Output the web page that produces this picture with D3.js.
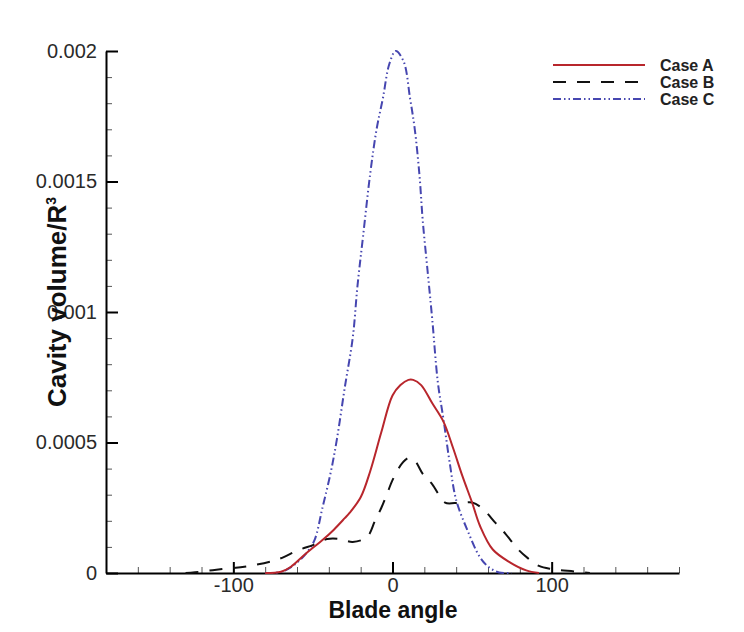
<!DOCTYPE html>
<html>
<head>
<meta charset="utf-8">
<script src="https://cdn.jsdelivr.net/npm/d3@7"></script>
<style>
  html, body { margin: 0; padding: 0; background: #fff; }
  svg { display: block; font-family: "Liberation Sans", Arial, sans-serif; }
</style>
</head>
<body>
<svg id="chart" width="744" height="632"></svg>
<script>
// ---- Data ----
const seriesNames = ["Case A", "Case B", "Case C"];

const caseA_angle  = [-80, -70, -64, -54, -44, -37, -30, -27, -20, -14, -7, 0, 5, 10, 13, 18, 25, 32, 38, 44, 50, 55, 63, 74, 84, 92];
const caseA_volume = [0, 0.000005, 0.000023, 0.000077, 0.000126, 0.000165, 0.00021, 0.00023, 0.00029, 0.00039, 0.00054, 0.00068, 0.00072, 0.00074, 0.00074, 0.00072, 0.00065, 0.00058, 0.00048, 0.00037, 0.00027, 0.00018, 0.00009, 0.00004, 0.00001, 0];

const caseB_angle  = [-130, -124, -107, -90, -73, -59, -50, -41, -33, -25, -16, -11, -7, -3, 0, 6, 10, 14, 19, 25, 33, 39, 45, 50, 56, 65, 71, 79, 85, 92, 100, 114, 124];
const caseB_volume = [0, 0.000003, 0.000015, 0.000027, 0.00005, 0.000088, 0.000107, 0.00013, 0.00013, 0.000119, 0.000138, 0.0002, 0.00025, 0.00031, 0.000356, 0.00042, 0.00044, 0.00043, 0.00038, 0.00034, 0.00027, 0.000268, 0.00027, 0.00027, 0.00025, 0.00019, 0.00015, 0.00009, 0.000057, 0.000027, 0.000015, 0.000006, 0];

const caseC_angle  = [-80, -70, -62, -54, -49, -44, -39, -35, -30, -25, -22, -18.5, -14, -10, -6, -2, 2, 7, 11, 14, 17, 19, 22, 25, 28.5, 32, 36, 40, 47, 55, 61, 67, 75];
const caseC_volume = [0, 0.000004, 0.00003, 0.000077, 0.000126, 0.00025, 0.00038, 0.00051, 0.00071, 0.0009, 0.0011, 0.00129, 0.00153, 0.0017, 0.00182, 0.00195, 0.002, 0.00196, 0.00182, 0.0017, 0.00152, 0.00135, 0.00116, 0.00097, 0.00073, 0.00059, 0.00042, 0.00028, 0.000165, 0.00006, 0.00002, 0.000002, 0];

const xMajorTicks = [-100, 0, 100];
const xMinorTicks = d3.range(-180, 181, 20);
const yMajorTicks = [0, 0.0005, 0.001, 0.0015, 0.002];
const yTickLabels = ["0", "0.0005", "0.001", "0.0015", "0.002"];
const yMinorTicks = d3.range(0, 21).map(i => i * 0.0001);

// ---- Layout ----
const svg = d3.select("#chart");
const plotLeft = 106, plotRight = 679, plotTop = 51, plotBottom = 573;

const x = d3.scaleLinear().domain([-180, 180]).range([plotLeft, plotRight]);
const y = d3.scaleLinear().domain([0, 0.002]).range([plotBottom, plotTop]);

// Minor ticks
svg.append("g")
  .attr("transform", `translate(0,${plotBottom})`)
  .call(d3.axisBottom(x).tickValues(xMinorTicks).tickSizeInner(-6).tickSizeOuter(0).tickFormat(""))
  .call(g => g.select(".domain").remove())
  .call(g => g.selectAll("line").attr("stroke", "#555").attr("stroke-width", 1));

svg.append("g")
  .attr("transform", `translate(${plotLeft},0)`)
  .call(d3.axisLeft(y).tickValues(yMinorTicks).tickSizeInner(-6).tickSizeOuter(0).tickFormat(""))
  .call(g => g.select(".domain").remove())
  .call(g => g.selectAll("line").attr("stroke", "#555").attr("stroke-width", 1));

// Major axes
const xAxis = svg.append("g")
  .attr("transform", `translate(0,${plotBottom})`)
  .call(d3.axisBottom(x).tickValues(xMajorTicks).tickSizeInner(-11).tickSizeOuter(0).tickPadding(5)
    .tickFormat(d => String(d)));
xAxis.select(".domain").attr("stroke", "#000").attr("stroke-width", 2);
xAxis.selectAll(".tick line").attr("stroke", "#000").attr("stroke-width", 2);
xAxis.selectAll(".tick text").attr("font-size", 20).attr("fill", "#2a2a2a")
  .attr("font-family", "Liberation Sans, Arial, sans-serif");

const yAxis = svg.append("g")
  .attr("transform", `translate(${plotLeft},0)`)
  .call(d3.axisLeft(y).tickValues(yMajorTicks).tickSizeInner(-12).tickSizeOuter(0).tickPadding(9)
    .tickFormat((d, i) => yTickLabels[i]));
yAxis.select(".domain").attr("stroke", "#000").attr("stroke-width", 2);
yAxis.selectAll(".tick line").attr("stroke", "#000").attr("stroke-width", 2);
yAxis.selectAll(".tick text").attr("font-size", 20).attr("fill", "#2a2a2a")
  .attr("font-family", "Liberation Sans, Arial, sans-serif");

// Axis titles
svg.append("text")
  .attr("x", 393).attr("y", 618)
  .attr("text-anchor", "middle")
  .attr("font-size", 23).attr("font-weight", "bold").attr("fill", "#111")
  .text("Blade angle");

const yl = svg.append("text")
  .attr("transform", "translate(66,302) rotate(-90)")
  .attr("text-anchor", "middle")
  .attr("font-size", 26).attr("font-weight", "bold").attr("fill", "#111");
yl.append("tspan").text("Cavity volume/R");
yl.append("tspan").attr("dy", -10).attr("font-size", 14).text("3");

// ---- Curves ----
const line = d3.line().x(d => x(d[0])).y(d => y(d[1])).curve(d3.curveCatmullRom.alpha(0.5));
const styles = [
  { color: "#b8262c", dash: null },
  { color: "#111111", dash: "13,11" },
  { color: "#4646b0", dash: "8,3,1.5,3,1.5,3" }
];
const series = [
  d3.zip(caseA_angle, caseA_volume),
  d3.zip(caseB_angle, caseB_volume),
  d3.zip(caseC_angle, caseC_volume)
];
[2, 1, 0].forEach(i => {
  svg.append("path")
    .attr("d", line(series[i]))
    .attr("fill", "none")
    .attr("stroke", styles[i].color)
    .attr("stroke-width", 2)
    .attr("stroke-dasharray", styles[i].dash);
});

// ---- Legend ----
const legend = svg.append("g");
seriesNames.forEach((name, i) => {
  const yy = 65 + i * 17;
  legend.append("line")
    .attr("x1", 553).attr("x2", 645).attr("y1", yy).attr("y2", yy)
    .attr("stroke", styles[i].color).attr("stroke-width", 2)
    .attr("stroke-dasharray", styles[i].dash);
  legend.append("text")
    .attr("x", 660).attr("y", yy + 6)
    .attr("font-size", 16).attr("font-weight", "bold").attr("fill", "#222")
    .text(name);
});
</script>
</body>
</html>
